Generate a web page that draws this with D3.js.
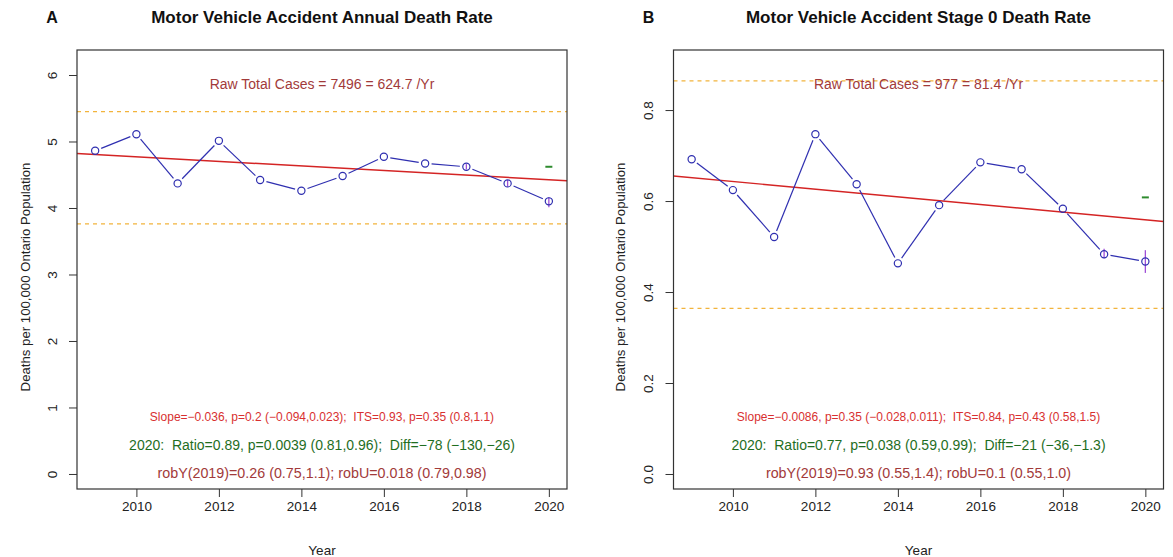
<!DOCTYPE html>
<html>
<head>
<meta charset="utf-8">
<script src="https://cdn.jsdelivr.net/npm/d3@7"></script>
<style>
  body { margin: 0; background: #fff; }
  svg { display: block; font-family: 'Liberation Sans', Arial, Helvetica, sans-serif; }
  text { white-space: pre; }
  .box { fill: none; stroke: #333; stroke-width: 1.2; }
  .tick line { stroke: #333; }
</style>
</head>
<body>
<svg id="chart" width="1173" height="557"></svg>
<script>
// data
const years = [2009, 2010, 2011, 2012, 2013, 2014, 2015, 2016, 2017, 2018, 2019, 2020]
const xTicks = [2010, 2012, 2014, 2016, 2018, 2020]

const rateA = [4.86, 5.11, 4.37, 5.01, 4.42, 4.26, 4.48, 4.77, 4.67, 4.62, 4.37, 4.10]
const rateB = [0.692, 0.624, 0.521, 0.747, 0.637, 0.463, 0.591, 0.685, 0.670, 0.583, 0.483, 0.467]

const errYearsA = [2018, 2019, 2020]
const errLowA = [4.58, 4.32, 4.01]
const errHighA = [4.66, 4.42, 4.16]
const errYearsB = [2019, 2020]
const errLowB = [0.474, 0.442]
const errHighB = [0.495, 0.492]

// fitted trend at the edges of the x range
const trendA = [[2008.56, 4.82], [2020.44, 4.41]]
const trendB = [[2008.56, 0.655], [2020.44, 0.555]]
// control limits (dashed orange)
const limitsA = [3.76, 5.45]
const limitsB = [0.364, 0.864]
// expected 2020 value (green mark)
const expectedA = 4.62
const expectedB = 0.608

const yTicksA = [0, 1, 2, 3, 4, 5, 6]
const yTicksB = [0, 0.2, 0.4, 0.6, 0.8]

const titles = ['Motor Vehicle Accident Annual Death Rate', 'Motor Vehicle Accident Stage 0 Death Rate']
const letters = ['A', 'B']
const rawText = ['Raw Total Cases = 7496 = 624.7 /Yr', 'Raw Total Cases = 977 = 81.4 /Yr']
const slopeText = [
  'Slope=\u22120.036, p=0.2 (\u22120.094,0.023);  ITS=0.93, p=0.35 (0.8,1.1)',
  'Slope=\u22120.0086, p=0.35 (\u22120.028,0.011);  ITS=0.84, p=0.43 (0.58,1.5)'
]
const ratioText = [
  '2020:  Ratio=0.89, p=0.0039 (0.81,0.96);  Diff=\u221278 (\u2212130,\u221226)',
  '2020:  Ratio=0.77, p=0.038 (0.59,0.99);  Diff=\u221221 (\u221236,\u22121.3)'
]
const robText = [
  'robY(2019)=0.26 (0.75,1.1); robU=0.018 (0.79,0.98)',
  'robY(2019)=0.93 (0.55,1.4); robU=0.1 (0.55,1.0)'
]

const COL = {
  pts: '#2f2fb0',
  err: '#a050d8',
  trend: '#d42424',
  limit: '#f2b43c',
  expect: '#2e8b2e',
  brown: '#a23a3a',
  slope: '#d83030',
  green: '#1f6e1f'
}

const svg = d3.select('#chart')
const plotTop = 50
const plotBottom = 489
const plotWidth = 490

/** draw one panel of the figure */
function drawPanel (p) {
  const x = d3.scaleLinear().domain([2008.56, 2020.44]).range([p.left, p.left + plotWidth])
  const y = d3.scaleLinear().domain(p.yDomain).range([plotBottom, plotTop])
  const g = svg.append('g')
  const cx = p.left + plotWidth / 2

  // titles
  g.append('text').attr('x', cx).attr('y', 23).attr('text-anchor', 'middle')
    .attr('font-size', 17).attr('font-weight', 'bold').attr('fill', '#111').text(p.title)
  g.append('text').attr('x', p.left - 25).attr('y', 23).attr('text-anchor', 'middle')
    .attr('font-size', 16).attr('font-weight', 'bold').attr('fill', '#111').text(p.letter)

  // axes
  const yAxis = g.append('g').attr('transform', `translate(${p.left},0)`)
    .call(d3.axisLeft(y).tickValues(p.yTicks).tickFormat(p.fmt).tickSize(8).tickSizeOuter(0))
  yAxis.select('.domain').remove()
  yAxis.selectAll('.tick text')
    .attr('transform', 'translate(-25,0) rotate(-90)')
    .attr('x', 0).attr('y', 0).attr('dy', '0.35em')
    .attr('text-anchor', 'middle').attr('font-size', 13.5).attr('fill', '#222')
    .style('font-family', 'inherit')

  const xAxis = g.append('g').attr('transform', `translate(0,${plotBottom})`)
    .call(d3.axisBottom(x).tickValues(xTicks).tickFormat(d3.format('d')).tickSize(8).tickSizeOuter(0))
  xAxis.select('.domain').remove()
  xAxis.selectAll('.tick text').attr('y', 22).attr('dy', 0).attr('font-size', 13.5)
    .attr('fill', '#222').style('font-family', 'inherit')

  g.append('text').attr('x', cx).attr('y', 555).attr('text-anchor', 'middle')
    .attr('font-size', 13.5).attr('fill', '#222').text('Year')
  g.append('text').attr('transform', `translate(${p.left - p.titleOffset},277) rotate(-90)`)
    .attr('text-anchor', 'middle').attr('font-size', 13.2).attr('fill', '#222')
    .text('Deaths per 100,000 Ontario Population')

  const plot = g.append('g')

  // control limits
  plot.selectAll('line.limit').data(p.limits).enter().append('line')
    .attr('x1', x.range()[0]).attr('x2', x.range()[1])
    .attr('y1', d => y(d)).attr('y2', d => y(d))
    .attr('stroke', COL.limit).attr('stroke-width', 1.3).attr('stroke-dasharray', '4,4')

  // raw cases text
  plot.append('text').attr('x', cx).attr('y', plotTop + 39).attr('text-anchor', 'middle')
    .attr('font-size', 14).attr('fill', COL.brown).text(p.raw)

  // trend
  plot.append('line')
    .attr('x1', x(p.trend[0][0])).attr('y1', y(p.trend[0][1]))
    .attr('x2', x(p.trend[1][0])).attr('y2', y(p.trend[1][1]))
    .attr('stroke', COL.trend).attr('stroke-width', 1.4)

  // series, type "b": segments with gaps at the points
  const pts = years.map((yr, i) => [x(yr), y(p.rates[i])])
  const gap = 6.5
  const segs = d3.pairs(pts).map(([a, b]) => {
    const dx = b[0] - a[0]
    const dy = b[1] - a[1]
    const len = Math.hypot(dx, dy)
    const ux = dx / len
    const uy = dy / len
    return [a[0] + ux * gap, a[1] + uy * gap, b[0] - ux * gap, b[1] - uy * gap, len]
  }).filter(s => s[4] > 2 * gap)
  plot.selectAll('line.seg').data(segs).enter().append('line')
    .attr('x1', s => s[0]).attr('y1', s => s[1]).attr('x2', s => s[2]).attr('y2', s => s[3])
    .attr('stroke', COL.pts).attr('stroke-width', 1.2)

  // error bars
  plot.selectAll('line.err').data(p.errYears).enter().append('line')
    .attr('x1', d => x(d)).attr('x2', d => x(d))
    .attr('y1', (d, i) => y(p.errLow[i])).attr('y2', (d, i) => y(p.errHigh[i]))
    .attr('stroke', COL.err).attr('stroke-width', 1.3)

  plot.selectAll('circle.pt').data(pts).enter().append('circle')
    .attr('cx', d => d[0]).attr('cy', d => d[1]).attr('r', 3.6)
    .attr('fill', 'none').attr('stroke', COL.pts).attr('stroke-width', 1.2)

  // expected 2020
  plot.append('line')
    .attr('x1', x(2020) - 3.5).attr('x2', x(2020) + 3.5)
    .attr('y1', y(p.expected)).attr('y2', y(p.expected))
    .attr('stroke', COL.expect).attr('stroke-width', 2)

  // bottom annotations
  plot.append('text').attr('x', cx).attr('y', 420.8).attr('text-anchor', 'middle')
    .attr('font-size', 12).attr('fill', COL.slope).text(p.slope)
  plot.append('text').attr('x', cx).attr('y', 449.5).attr('text-anchor', 'middle')
    .attr('font-size', 14).attr('fill', COL.green).text(p.ratio)
  plot.append('text').attr('x', cx).attr('y', 477.5).attr('text-anchor', 'middle')
    .attr('font-size', 14.3).attr('fill', COL.brown).text(p.rob)

  g.append('rect').attr('class', 'box')
    .attr('x', p.left).attr('y', plotTop).attr('width', plotWidth).attr('height', plotBottom - plotTop)
}

drawPanel({
  left: 77,
  titleOffset: 47,
  yDomain: [-0.226, 6.376],
  yTicks: yTicksA,
  fmt: d3.format('d'),
  title: titles[0],
  letter: letters[0],
  raw: rawText[0],
  slope: slopeText[0],
  ratio: ratioText[0],
  rob: robText[0],
  rates: rateA,
  errYears: errYearsA,
  errLow: errLowA,
  errHigh: errHighA,
  trend: trendA,
  limits: limitsA,
  expected: expectedA
})

drawPanel({
  left: 673.5,
  titleOffset: 49,
  yDomain: [-0.033, 0.932],
  yTicks: yTicksB,
  fmt: d3.format('.1f'),
  title: titles[1],
  letter: letters[1],
  raw: rawText[1],
  slope: slopeText[1],
  ratio: ratioText[1],
  rob: robText[1],
  rates: rateB,
  errYears: errYearsB,
  errLow: errLowB,
  errHigh: errHighB,
  trend: trendB,
  limits: limitsB,
  expected: expectedB
})
</script>
</body>
</html>
